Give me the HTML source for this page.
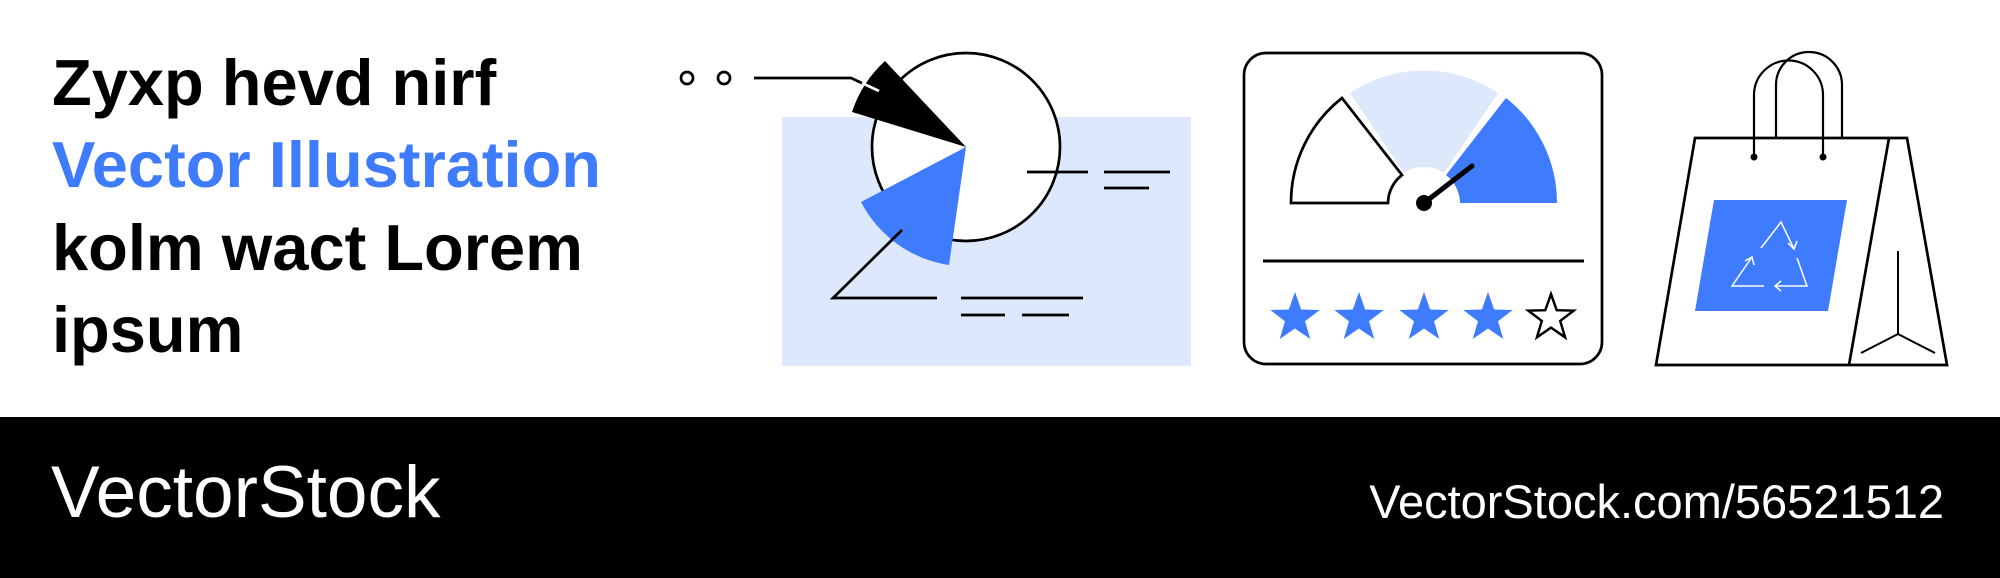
<!DOCTYPE html>
<html><head><meta charset="utf-8"><style>
html,body{margin:0;padding:0;background:#fff;}
body{width:2000px;height:578px;position:relative;overflow:hidden;font-family:"Liberation Sans",Arial,sans-serif;}
.t{position:absolute;left:52px;font-weight:bold;font-size:65px;line-height:1;white-space:nowrap;color:#000;}
.band{position:absolute;left:0;top:417px;width:2000px;height:161px;background:#000;}
.f1{position:absolute;left:51px;top:456px;font-size:73px;color:#fff;line-height:1;}
.f2{position:absolute;right:56px;top:478px;font-size:47px;color:#fff;line-height:1;}
svg{position:absolute;left:0;top:0;}
</style></head><body>
<div class="t" style="top:50px">Zyxp hevd nirf</div>
<div class="t" style="top:132px;color:#3f7bfd">Vector Illustration</div>
<div class="t" style="top:215px">kolm wact Lorem</div>
<div class="t" style="top:297px">ipsum</div>

<svg width="2000" height="417" viewBox="0 0 2000 417">
<defs>
<polygon id="st" points="0,-26 6.2,-8.5 24.7,-8 10,3.2 15.3,21 0,10.5 -15.3,21 -10,3.2 -24.7,-8 -6.2,-8.5"/>
</defs>
<rect x="782" y="117" width="409" height="249" fill="#dde8fc"/>
<circle cx="687" cy="78" r="6" fill="none" stroke="#000" stroke-width="2.7"/>
<circle cx="724" cy="78" r="6" fill="none" stroke="#000" stroke-width="2.7"/>
<circle cx="966" cy="147" r="94" fill="#fff" stroke="#000" stroke-width="2.7"/>
<path d="M966,147 L852,112 A119,119 0 0 1 885,61 Z" fill="#000"/>
<polyline points="754,78 851,78 879,91" fill="none" stroke="#000" stroke-width="2.7"/>
<line x1="862" y1="83" x2="879" y2="91" stroke="#fff" stroke-width="2.7"/>
<path d="M966,147 L861,202 A119,119 0 0 0 949,265 Z" fill="#3f7bfd"/>
<g stroke="#000" stroke-width="2.7" fill="none">
<polyline points="902,230 833,298 937,298"/>
<line x1="961" y1="298" x2="1083" y2="298"/>
<line x1="961" y1="315" x2="1005" y2="315"/>
<line x1="1022" y1="315" x2="1069" y2="315"/>
<line x1="1027" y1="172" x2="1088" y2="172"/>
<line x1="1104" y1="172" x2="1170" y2="172"/>
<line x1="1104" y1="188" x2="1149" y2="188"/>
</g>
<rect x="1244" y="53" width="358" height="311" rx="22" fill="#fff" stroke="#000" stroke-width="2.7"/>
<path d="M1350,93 A133 133 0 0 1 1498,93 L1444,173 A36 36 0 0 0 1404,173 Z" fill="#dde8fc"/>
<path d="M1506,98 A133 133 0 0 1 1557,203 L1460,203 A36 36 0 0 0 1446,175 Z" fill="#3f7bfd"/>
<path d="M1291,203 A133 133 0 0 1 1342,98 L1402,175 A36 36 0 0 0 1388,203 Z" fill="#fff" stroke="#000" stroke-width="2.7"/>
<line x1="1424" y1="203" x2="1472" y2="166" stroke="#000" stroke-width="5" stroke-linecap="round"/>
<circle cx="1424" cy="203" r="8" fill="#000"/>
<line x1="1263" y1="261" x2="1584" y2="261" stroke="#000" stroke-width="3"/>
<g fill="#3f7bfd">
<use href="#st" transform="translate(1295,318)"/>
<use href="#st" transform="translate(1359,318)"/>
<use href="#st" transform="translate(1424,318)"/>
<use href="#st" transform="translate(1488,318)"/>
</g>
<use href="#st" transform="translate(1551,318) scale(0.92)" fill="#fff" stroke="#000" stroke-width="2.7"/>
<g fill="none" stroke="#000" stroke-width="2.2">
<path d="M1776,138 L1776,85 A33,33 0 0 1 1842,85 L1842,138"/>
</g>
<polygon points="1695,138 1907,138 1947,365 1656,365" fill="none" stroke="#000" stroke-width="2.7"/>
<path d="M1754,157 L1754,95 A34.5,34.5 0 0 1 1823,95 L1823,157" fill="none" stroke="#000" stroke-width="2.2"/>
<line x1="1889" y1="138" x2="1849" y2="365" stroke="#000" stroke-width="2.7"/>
<circle cx="1754" cy="157" r="3.5" fill="#000"/>
<circle cx="1823" cy="157" r="3.5" fill="#000"/>
<polygon points="1714,200 1847,200 1828,311 1695,311" fill="#3f7bfd"/>
<g fill="none" stroke="#fff" stroke-width="1.5">
<polyline points="1761,248 1781,222 1794,249"/>
<polyline points="1788,243 1794,249 1797,241"/>
<polyline points="1797,258 1807,286 1775,286"/>
<polyline points="1781,281 1775,286 1781,291"/>
<polyline points="1764,286 1732,286 1752,257"/>
<polyline points="1745,261 1752,257 1754,265"/>
</g>
<g fill="none" stroke="#000" stroke-width="2">
<line x1="1898" y1="251" x2="1898" y2="334"/>
<polyline points="1861,353 1898,334 1935,353"/>
</g>
</svg>

<div class="band"></div>
<div class="f1">VectorStock</div>
<div class="f2">VectorStock.com/56521512</div>
</body></html>
